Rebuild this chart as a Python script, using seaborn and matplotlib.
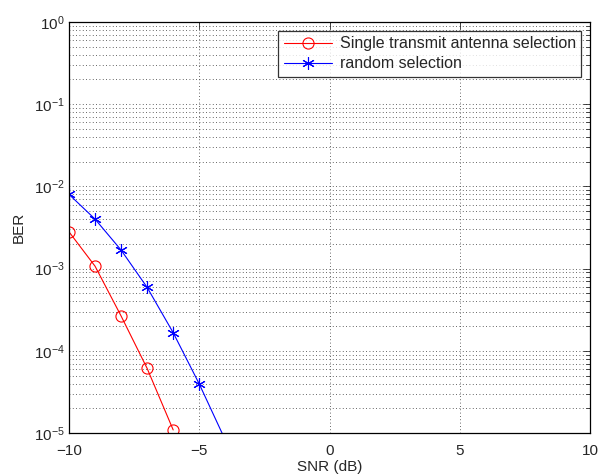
import numpy as np
import pandas as pd
import seaborn as sns
import matplotlib
matplotlib.use('Agg')
import matplotlib.pyplot as plt
from matplotlib.ticker import LogLocator, NullFormatter, MultipleLocator

# values
snr_single = [-10, -9, -8, -7, -6]
ber_single = [2.8e-3, 1.07e-3, 2.65e-4, 6.1e-5, 1.09e-5]
snr_random = [-10, -9, -8, -7, -6, -5, -4]
ber_random = [8.0e-3, 4.0e-3, 1.68e-3, 5.9e-4, 1.66e-4, 3.95e-5, 8.2e-6]
names = ['Single transmit antenna selection', 'random selection']

sns.set_style('white')
plt.rcParams['font.family'] = ['Liberation Sans', 'DejaVu Sans']
plt.rcParams['mathtext.fontset'] = 'custom'
plt.rcParams['mathtext.rm'] = 'Liberation Sans'
plt.rcParams['mathtext.it'] = 'Liberation Sans:italic'
plt.rcParams['axes.unicode_minus'] = True

fig = plt.figure(figsize=(6, 4.75), dpi=100)
ax = fig.add_axes([69/600, 42/475, 521/600, 411/475])

sns.lineplot(x=snr_single, y=ber_single, color='red', marker='o',
             markersize=8, markerfacecolor='none', markeredgecolor='red',
             markeredgewidth=0.8, linewidth=0.8, label=names[0], ax=ax)
sns.lineplot(x=snr_random, y=ber_random, color='blue', marker=(6, 2, 0),
             markersize=9, markeredgecolor='blue', markeredgewidth=0.8,
             linewidth=0.8, label=names[1], ax=ax)

ax.set_yscale('log')
ax.set_xlim(-10, 10)
ax.set_ylim(1e-5, 1)
ax.xaxis.set_major_locator(MultipleLocator(5))
ax.yaxis.set_major_locator(LogLocator(base=10, numticks=10))
ax.yaxis.set_minor_locator(LogLocator(base=10, subs=np.arange(2, 10), numticks=20))
ax.yaxis.set_minor_formatter(NullFormatter())

# MATLAB-like dotted grid
dots = (0, (1, 3))
ax.grid(which='major', axis='both', linestyle=dots, color='#333333', linewidth=0.6)
ax.grid(which='minor', axis='y', linestyle=dots, color='#333333', linewidth=0.6)

ax.tick_params(which='both', direction='in', top=True, right=True, labelsize=11)
ax.tick_params(which='major', length=5, width=0.6)
ax.tick_params(which='minor', length=3, width=0.6)
ax.tick_params(axis='x', pad=8)
ax.tick_params(axis='y', pad=3)
for s in ax.spines.values():
    s.set_color('k')
    s.set_linewidth(0.9)

ax.set_xlabel('SNR (dB)', fontsize=11, labelpad=1)
ax.set_ylabel('BER', fontsize=11, labelpad=6)

leg = ax.legend(loc='upper right', fontsize=11.5, frameon=True, fancybox=False,
                edgecolor='k', borderaxespad=0.55, handlelength=3.0,
                handletextpad=0.5, borderpad=0.35, labelspacing=0.3)
leg.get_frame().set_linewidth(0.9)

fig.savefig('out.png', dpi=100)
